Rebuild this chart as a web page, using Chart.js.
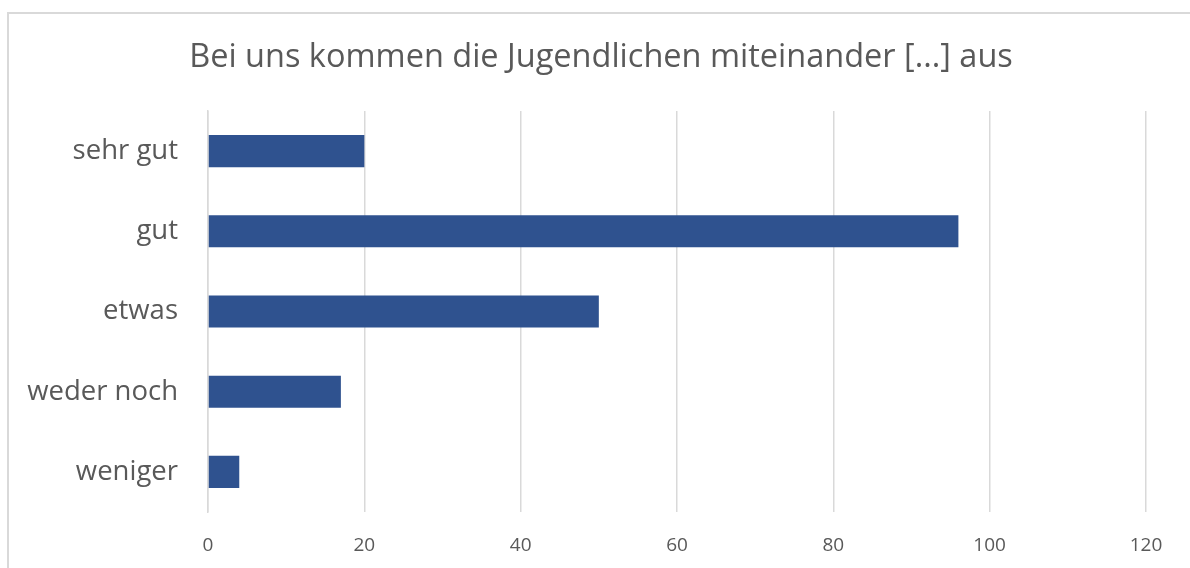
<!DOCTYPE html>
<html>
  <head>
    <meta charset="utf-8">
    <title>Bei uns kommen die Jugendlichen miteinander aus</title>
    <script src="https://cdn.jsdelivr.net/npm/chart.js"></script>
    <style>
    body { margin: 0; background: #fff; }
    #frame {
      position: absolute; left: 7px; top: 12px; width: 1190px; height: 568px;
      border-left: 2px solid #d9d9d9; border-top: 2px solid #d9d9d9;
    }
    #chart { position: absolute; left: 0; top: 0; }
  </style>
  </head>
  <body>
    <div id="frame"></div>
    <canvas id="chart" width="1190" height="568"></canvas>
    <script>
    // values
    const categories = ["sehr gut", "gut", "etwas", "weder noch", "weniger"];
    const counts = [20, 96, 50, 17, 4];
    const xTicks = [0, 20, 40, 60, 80, 100, 120];

    const textColor = "#595959";
    const gridColor = "#d9d9d9";
    const font = "Open Sans";

    // nudge the title a bit to the right, like in the original
    const shiftTitle = {
      id: "shiftTitle",
      afterLayout(chart) {
        if (chart.titleBlock) chart.titleBlock.left += 56;
      }
    };

    new Chart(document.getElementById("chart"), {
      type: "bar",
      data: {
        labels: categories,
        datasets: [{
          data: counts,
          backgroundColor: "#2f528f",
          barPercentage: 0.8,
          categoryPercentage: 0.5
        }]
      },
      plugins: [shiftTitle],
      options: {
        indexAxis: "y",
        responsive: false,
        animation: false,
        devicePixelRatio: 1,
        layout: { padding: { left: 0, right: 44, top: 0, bottom: 0 } },
        plugins: {
          legend: { display: false },
          tooltip: { enabled: false },
          title: {
            display: true,
            text: "Bei uns kommen die Jugendlichen miteinander [...] aus",
            color: textColor,
            font: { family: font, size: 32.5, weight: "normal" },
            padding: { top: 38, bottom: 34 }
          }
        },
        scales: {
          x: {
            min: 0,
            max: 120,
            afterBuildTicks: (axis) => { axis.ticks = xTicks.map((v) => ({ value: v })); },
            afterFit: (axis) => { axis.height = 56; },
            grid: { color: gridColor, lineWidth: 1.5, drawTicks: false },
            border: { display: false },
            ticks: { color: textColor, font: { family: font, size: 19 }, padding: 22 }
          },
          y: {
            afterFit: (axis) => { axis.width = 208; },
            grid: { display: false, drawTicks: false },
            border: { display: true, color: gridColor, width: 1.5 },
            ticks: { color: textColor, font: { family: font, size: 27.5 }, padding: 30 }
          }
        }
      }
    });
  </script>
  </body>
</html>
